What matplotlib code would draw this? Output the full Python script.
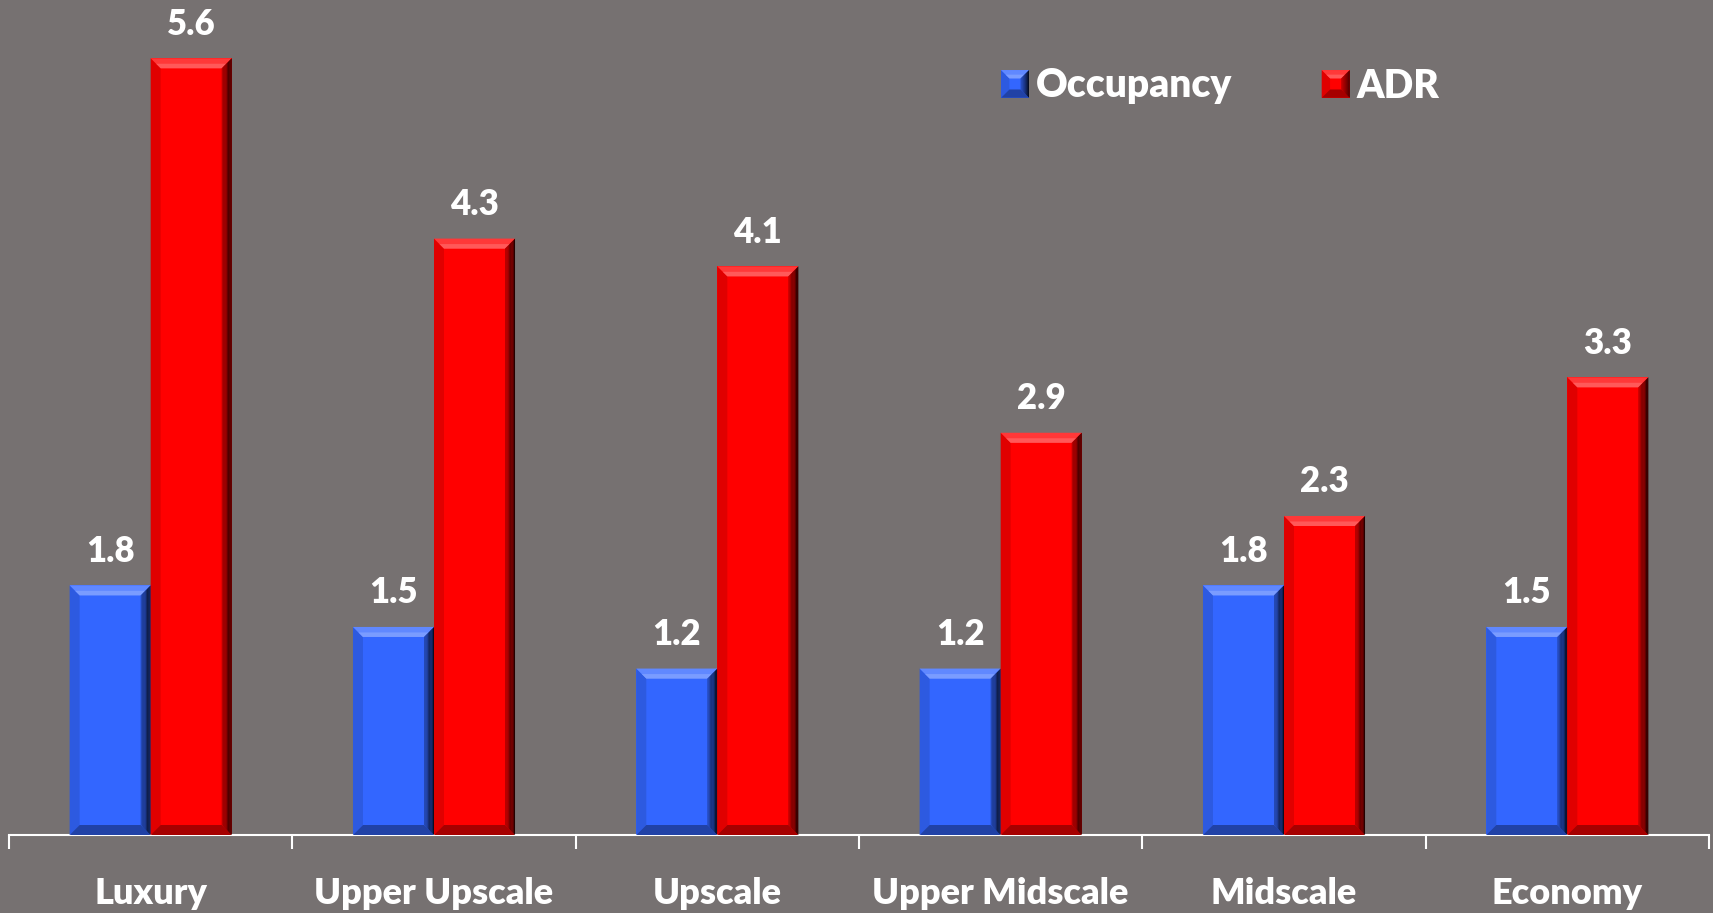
import matplotlib
matplotlib.use("Agg")
import matplotlib.pyplot as plt
import numpy as np
from matplotlib.patches import Polygon, Rectangle
from matplotlib.colors import to_rgb
from matplotlib.legend_handler import HandlerBase

categories = ["Luxury", "Upper Upscale", "Upscale", "Upper Midscale", "Midscale", "Economy"]
occupancy = [1.8, 1.5, 1.2, 1.2, 1.8, 1.5]
adr = [5.6, 4.3, 4.1, 2.9, 2.3, 3.3]
series_names = ["Occupancy", "ADR"]

BG = "#767171"
BLUE = "#3366FF"
RED = "#FF0000"
FONT = ["Lato", "DejaVu Sans"]
WEIGHT = "heavy"

W, H, DPI = 1713, 913, 100
fig = plt.figure(figsize=(W / DPI, H / DPI), dpi=DPI, facecolor=BG)
ax = fig.add_axes([9 / W, 78 / H, 1700 / W, 835 / H], facecolor=BG)

x = np.arange(len(categories))
bw = 0.286
bars_occ = ax.bar(x - bw / 2, occupancy, bw, color=BLUE, linewidth=0, zorder=2)
bars_adr = ax.bar(x + bw / 2, adr, bw, color=RED, linewidth=0, zorder=2)

ax.set_xlim(-0.5, len(categories) - 0.5)
ax.set_ylim(0, 6.02)

# pixel -> data scale factors for the bevel decoration
px_x = (ax.get_xlim()[1] - ax.get_xlim()[0]) / 1700
px_y = (ax.get_ylim()[1] - ax.get_ylim()[0]) / 835


def shade(c, f):
    r, g, b = to_rgb(c)
    if f >= 0:
        return (r + (1 - r) * f, g + (1 - g) * f, b + (1 - b) * f)
    return (r * (1 + f), g * (1 + f), b * (1 + f))


def bevel_polys(x0, y0, x1, y1, bx, by, base):
    """Polygons (vertices, colour) giving a raised, bevelled look to a box."""
    out = [
        ([(x0, y0), (x0 + bx, y0 + by), (x0 + bx, y1 - by), (x0, y1)], shade(base, -0.12)),
        ([(x0, y0), (x1, y0), (x1 - bx, y0 + by), (x0 + bx, y0 + by)], shade(base, -0.35)),
        ([(x0, y1), (x1, y1), (x1 - bx, y1 - by), (x0 + bx, y1 - by)], shade(base, 0.22)),
        ([(x0 + bx * 0.55, y1 - by * 0.55), (x1 - bx * 0.55, y1 - by * 0.55),
          (x1 - bx, y1 - by), (x0 + bx, y1 - by)], shade(base, 0.35)),
    ]
    n = 8
    for i in range(n):
        a, b = i / n, (i + 1) / n
        xa, xb = x1 - bx * (1 - a), x1 - bx * (1 - b)
        ya, yb = by * (1 - a), by * (1 - b)
        f = -0.25 - 0.65 * (i + 0.5) / n
        out.append(([(xa, y0 + ya), (xb, y0 + yb), (xb, y1 - yb), (xa, y1 - ya)], shade(base, f)))
    return out


def bevel(rect, base):
    x0, y0 = rect.get_x(), rect.get_y()
    x1, y1 = x0 + rect.get_width(), y0 + rect.get_height()
    for verts, col in bevel_polys(x0, y0, x1, y1, 10 * px_x, 10 * px_y, base):
        ax.add_patch(Polygon(verts, closed=True, color=col, lw=0, zorder=3))


for r in bars_occ:
    bevel(r, BLUE)
for r in bars_adr:
    bevel(r, RED)

# value labels
for bars, vals in ((bars_occ, occupancy), (bars_adr, adr)):
    for r, v in zip(bars, vals):
        ax.annotate(f"{v:.1f}", (r.get_x() + r.get_width() / 2, v),
                    xytext=(0, 17), textcoords="offset points",
                    ha="center", va="baseline", color="white",
                    fontsize=25, fontweight=WEIGHT, family=FONT, zorder=4)

# axes styling
for s in ("top", "right", "left"):
    ax.spines[s].set_visible(False)
ax.spines["bottom"].set_color("white")
ax.spines["bottom"].set_linewidth(1.5)
ax.set_yticks([])
ax.set_xticks(np.arange(len(categories) + 1) - 0.5)
ax.set_xticklabels([])
ax.tick_params(axis="x", which="major", direction="out", length=10, width=1.5, color="white")
ax.set_xticks(x, minor=True)
ax.set_xticklabels(categories, minor=True)
ax.tick_params(axis="x", which="minor", length=0, pad=30, labelsize=26, labelcolor="white")
for lbl in ax.get_xticklabels(minor=True):
    lbl.set_fontweight(WEIGHT)
    lbl.set_family(FONT)


class BevelHandler(HandlerBase):
    def create_artists(self, legend, orig_handle, xdescent, ydescent, width, height,
                       fontsize, trans):
        base = orig_handle.get_facecolor()
        x0, y0 = -xdescent, -ydescent
        x1, y1 = x0 + width, y0 + height
        arts = [Rectangle((x0, y0), width, height, color=base, lw=0, transform=trans)]
        for verts, col in bevel_polys(x0, y0, x1, y1, width * 0.3, height * 0.3, base):
            arts.append(Polygon(verts, closed=True, color=col, lw=0, transform=trans))
        return arts


# legend
handles = [Rectangle((0, 0), 1, 1, facecolor=BLUE), Rectangle((0, 0), 1, 1, facecolor=RED)]
leg = fig.legend(handles, series_names, loc="center left",
                 bbox_to_anchor=(966 / W, 1 - 86 / H), ncol=2, frameon=False,
                 handlelength=0.72, handleheight=0.72, handletextpad=0.18,
                 columnspacing=2.3,
                 handler_map={Rectangle: BevelHandler()},
                 prop={"family": FONT, "weight": WEIGHT, "size": 28})
for t in leg.get_texts():
    t.set_color("white")

fig.savefig("out.png", dpi=DPI, facecolor=BG)
